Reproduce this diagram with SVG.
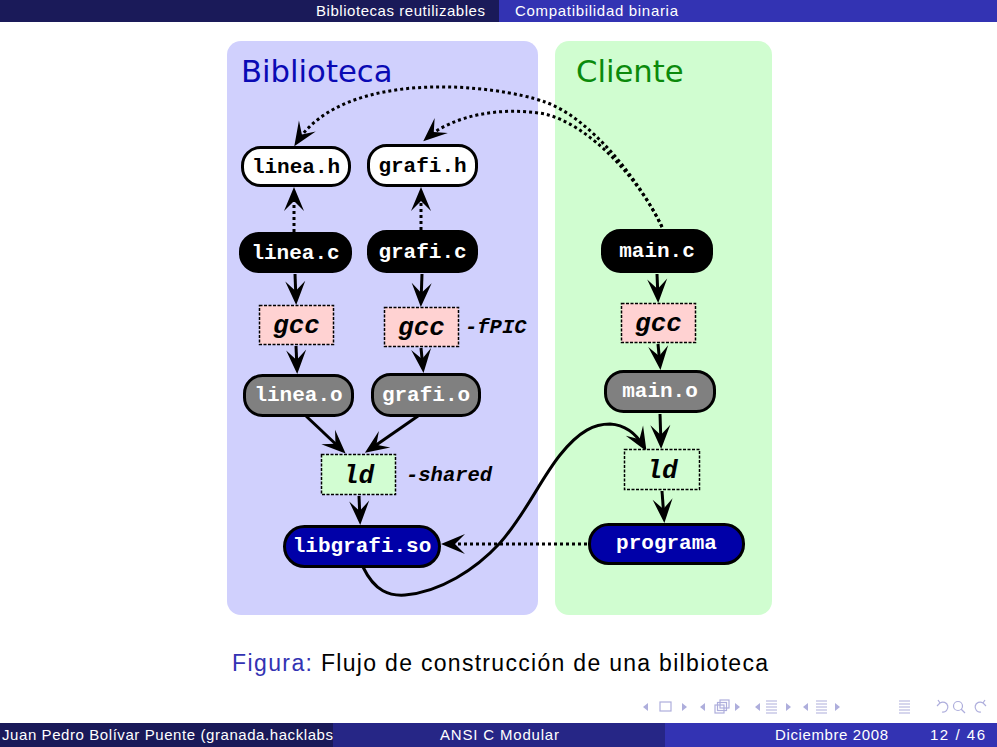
<svg xmlns="http://www.w3.org/2000/svg" width="997" height="747" viewBox="0 0 997 747">
  <defs>
    <marker id="ah" markerUnits="userSpaceOnUse" markerWidth="26" markerHeight="22" refX="0" refY="0" orient="auto" style="overflow:visible">
      <path d="M5,0 L-19,-10 L-9,0 L-19,10 Z" fill="#000"/>
    </marker>
    <style>
      .bar { font-family: "Liberation Sans", "DejaVu Sans", sans-serif; font-size: 15px; fill: #fff; }
      .title { font-family: "DejaVu Sans", sans-serif; font-size: 30.7px; }
      .node { stroke: #000; stroke-width: 3; }
      .tool { stroke: #000; stroke-width: 1.5; stroke-dasharray: 3 1.5; }
      .lbl { font-family: "Liberation Mono", "Courier New", monospace; font-weight: bold; font-size: 21px; text-anchor: middle; }
      .cmd { font-family: "Liberation Mono", "Courier New", monospace; font-weight: bold; font-style: italic; font-size: 26px; text-anchor: middle; fill: #000; }
      .opt { font-family: "Liberation Mono", "Courier New", monospace; font-weight: bold; font-style: italic; font-size: 20.5px; fill: #000; }
      .edge { fill: none; stroke: #000; stroke-width: 3; marker-end: url(#ah); }
      .dot { stroke-dasharray: 3 3; }
      .nav { fill: none; stroke: #aeaedc; stroke-width: 1.2; }
      .navf { fill: #aeaedc; }
    </style>
  </defs>

  <rect width="997" height="747" fill="#fff"/>

  <!-- head line -->
  <rect x="0" y="0" width="499" height="22" fill="#1a1a59"/>
  <rect x="499" y="0" width="498" height="22" fill="#3333b3"/>
  <text class="bar" x="316" y="16" textLength="169" fill="#e8e8f2">Bibliotecas reutilizables</text>
  <text class="bar" x="515" y="16" textLength="163">Compatibilidad binaria</text>

  <!-- panels -->
  <rect x="227" y="41" width="311" height="574" rx="14" fill="#d0d0fd"/>
  <rect x="555" y="41" width="217" height="574" rx="14" fill="#d0fdd0"/>
  <text class="title" x="241" y="82" fill="#0a0ab4">Biblioteca</text>
  <text class="title" x="576" y="82" fill="#0b8a0b">Cliente</text>

  <!-- connectors -->
  <g id="edges">
    <path class="edge" d="M295,274 L296,300"/>
    <path class="edge" d="M296,346 L297,369"/>
    <path class="edge" d="M422,274 L421,302"/>
    <path class="edge" d="M421,348 L423,368"/>
    <path class="edge" d="M657,274 L658,298"/>
    <path class="edge" d="M658,344 L660,365"/>
    <path class="edge" d="M306,416 L342,450"/>
    <path class="edge" d="M418,416 L369,450"/>
    <path class="edge" d="M359,496 L360,520"/>
    <path class="edge" d="M660,414 L661,444"/>
    <path class="edge" d="M662,491 L664,518"/>
    <path class="edge" d="M363,567 C375,592 390,596 405,595 C440,592 475,570 500,543 C525,515 540,480 560,455 C580,430 595,424 610,424 C627,425 637,435 644,447"/>
    <path class="edge dot" d="M294,232 L294,192"/>
    <path class="edge dot" d="M421,230 L421,192"/>
    <path class="edge dot" d="M587,544 L446,544"/>
    <path class="edge dot" d="M662,227 C638,178 590,118 545,102 C495,84 345,68 297,142"/>
    <path class="edge dot" d="M662,227 C640,180 590,125 545,114 C500,106 452,116 427,138"/>
  </g>

  <!-- nodes -->
  <g id="linea_h">
    <rect class="node" x="242.5" y="147.5" width="107" height="38" rx="18" fill="#fff"/>
    <text class="lbl" x="296" y="173" fill="#000">linea.h</text>
  </g>
  <g id="grafi_h">
    <rect class="node" x="368.5" y="145.5" width="108" height="40" rx="18" fill="#fff"/>
    <text class="lbl" x="422.5" y="172" fill="#000">grafi.h</text>
  </g>
  <g id="linea_c">
    <rect class="node" x="240.5" y="233.5" width="110" height="38" rx="18" fill="#000"/>
    <text class="lbl" x="295.5" y="259" fill="#fff">linea.c</text>
  </g>
  <g id="grafi_c">
    <rect class="node" x="368.5" y="231.5" width="108" height="40" rx="18" fill="#000"/>
    <text class="lbl" x="422.5" y="258" fill="#fff">grafi.c</text>
  </g>
  <g id="main_c">
    <rect class="node" x="602.5" y="230.5" width="109" height="41" rx="18" fill="#000"/>
    <text class="lbl" x="657" y="257" fill="#fff">main.c</text>
  </g>
  <g id="gcc_linea">
    <rect class="tool" x="259.5" y="305.5" width="74" height="39" fill="#ffd2d2"/>
    <text class="cmd" x="296.5" y="333">gcc</text>
  </g>
  <g id="gcc_grafi">
    <rect class="tool" x="384.5" y="307.5" width="74" height="39" fill="#ffd2d2"/>
    <text class="cmd" x="421.5" y="335">gcc</text>
    <text class="opt" x="465" y="333">-fPIC</text>
  </g>
  <g id="gcc_main">
    <rect class="tool" x="621.5" y="303.5" width="74" height="39" fill="#ffd2d2"/>
    <text class="cmd" x="658.5" y="331">gcc</text>
  </g>
  <g id="linea_o">
    <rect class="node" x="244.5" y="375.5" width="108" height="40" rx="18" fill="#808080"/>
    <text class="lbl" x="298.5" y="401" fill="#fff">linea.o</text>
  </g>
  <g id="grafi_o">
    <rect class="node" x="372.5" y="374.5" width="107" height="41" rx="18" fill="#808080"/>
    <text class="lbl" x="426" y="401" fill="#fff">grafi.o</text>
  </g>
  <g id="main_o">
    <rect class="node" x="605.5" y="371.5" width="109" height="40" rx="18" fill="#808080"/>
    <text class="lbl" x="660" y="397" fill="#fff">main.o</text>
  </g>
  <g id="ld_lib">
    <rect class="tool" x="321.5" y="454.5" width="74" height="40" fill="#d2fdd2"/>
    <text class="cmd" x="358.5" y="483">ld</text>
    <text class="opt" x="406" y="481">-shared</text>
  </g>
  <g id="ld_main">
    <rect class="tool" x="624.5" y="449.5" width="75" height="40" fill="#d2fdd2"/>
    <text class="cmd" x="662" y="478">ld</text>
  </g>
  <g id="libgrafi_so">
    <rect class="node" x="284.5" y="526.5" width="155" height="40" rx="20" fill="#0000a8"/>
    <text class="lbl" x="362" y="552" fill="#fff">libgrafi.so</text>
  </g>
  <g id="programa">
    <rect class="node" x="589.5" y="524.5" width="154" height="39" rx="19" fill="#0000a8"/>
    <text class="lbl" x="666.5" y="549" fill="#fff">programa</text>
  </g>

  <!-- caption -->
  <text x="232" y="671" font-family="Liberation Sans, DejaVu Sans, sans-serif" font-size="23" fill="#3333b3" textLength="80">Figura:</text>
  <text x="321" y="671" font-family="Liberation Sans, DejaVu Sans, sans-serif" font-size="23" fill="#000" textLength="447">Flujo de construcción de una bilbioteca</text>

  <!-- navigation symbols -->
  <g id="navigation">
    <path class="navf" d="M648,703 L643,707 L648,711 Z"/>
    <rect class="nav" x="660" y="702" width="11" height="9"/>
    <path class="navf" d="M682,703 L687,707 L682,711 Z"/>
    <path class="navf" d="M705,703 L700,707 L705,711 Z"/>
    <rect class="nav" x="720" y="700" width="9" height="8"/>
    <rect class="nav" x="717.5" y="702.5" width="9" height="8" fill="#fff"/>
    <rect class="nav" x="715" y="705" width="9" height="8" fill="#fff"/>
    <path class="navf" d="M735,703 L740,707 L735,711 Z"/>
    <path class="navf" d="M760,703 L755,707 L760,711 Z"/>
    <path class="nav" d="M766,701 H777 M766,704 H777 M766,707 H777 M766,710 H777 M766,713 H777"/>
    <path class="navf" d="M786,703 L791,707 L786,711 Z"/>
    <path class="navf" d="M808,703 L803,707 L808,711 Z"/>
    <path class="nav" d="M816,701 H827 M816,704 H827 M816,707 H827 M816,710 H827 M816,713 H827"/>
    <path class="navf" d="M835,703 L840,707 L835,711 Z"/>
    <path class="nav" d="M899,701 H910 M899,704 H910 M899,707 H910 M899,710 H910 M899,713 H910"/>
    <path class="nav" d="M940,703 A5,5 0 1 1 942,712 M938,700 L940,703 L937,706"/>
    <circle class="nav" cx="958" cy="706" r="4.5"/>
    <path class="nav" d="M961,709 L965,713"/>
    <path class="nav" d="M983,703 A5,5 0 1 0 981,712 M985,700 L983,703 L986,706"/>
  </g>

  <!-- foot line -->
  <rect x="0" y="723" width="333" height="24" fill="#1a1a59"/>
  <rect x="333" y="723" width="332" height="24" fill="#262686"/>
  <rect x="665" y="723" width="332" height="24" fill="#3333b3"/>
  <text class="bar" x="2" y="740" textLength="331">Juan Pedro Bolívar Puente (granada.hacklabs</text>
  <text class="bar" x="440" y="740" textLength="119">ANSI C Modular</text>
  <text class="bar" x="775" y="740" textLength="113">Diciembre 2008</text>
  <text class="bar" x="930" y="740" textLength="55">12 / 46</text>
</svg>
